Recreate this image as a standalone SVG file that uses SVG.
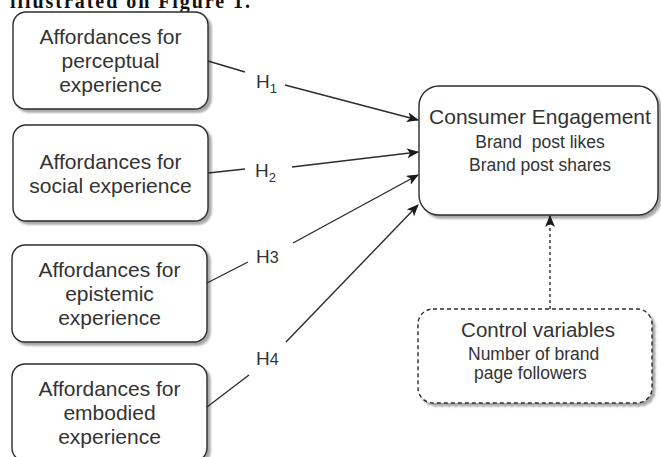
<svg xmlns="http://www.w3.org/2000/svg" width="661" height="457" viewBox="0 0 661 457">
<style>
.box{fill:#fff;stroke:#2b2b2b;stroke-width:1.4;filter:url(#sh)}
.dbox{fill:#fff;stroke:#2b2b2b;stroke-width:1.4;stroke-dasharray:4 3;filter:url(#sh)}
.t{font-family:"Liberation Sans",Arial,sans-serif;fill:#333;text-anchor:middle}
.big{font-size:21px}
.sm{font-size:17.5px}
.edge{stroke:#2b2b2b;stroke-width:1.4;fill:none}
.lab{font-family:"Liberation Sans",Arial,sans-serif;fill:#333}
</style>
<defs>
<filter id="sh" x="-10%" y="-10%" width="125%" height="130%">
<feGaussianBlur in="SourceAlpha" stdDeviation="1.3"/>
<feOffset dx="2.5" dy="3" result="b"/>
<feComponentTransfer><feFuncA type="linear" slope="0.35"/></feComponentTransfer>
<feMerge><feMergeNode/><feMergeNode in="SourceGraphic"/></feMerge>
</filter>
<marker id="ar" viewBox="0 0 12 10" refX="11" refY="5" markerWidth="12" markerHeight="10" markerUnits="userSpaceOnUse" orient="auto">
<path d="M0,0 L12,5 L0,10 L3,5 z" fill="#1a1a1a"/>
</marker>
</defs>
<rect width="661" height="457" fill="#fff"/>
<text x="10" y="8" font-family="Liberation Serif,serif" font-weight="bold" font-size="20" fill="#111" textLength="240">illustrated on Figure 1.</text>

<g id="n1">
<rect class="box" x="13" y="12" width="195" height="97" rx="13"/>
<text class="t big" x="110.5" y="44">Affordances for</text>
<text class="t big" x="110.5" y="68">perceptual</text>
<text class="t big" x="110.5" y="92">experience</text>
</g>
<g id="n2">
<rect class="box" x="13" y="125" width="195" height="96" rx="13"/>
<text class="t big" x="110.5" y="169">Affordances for</text>
<text class="t big" x="110.5" y="193">social experience</text>
</g>
<g id="n3">
<rect class="box" x="12" y="245" width="195" height="97" rx="13"/>
<text class="t big" x="109.5" y="277">Affordances for</text>
<text class="t big" x="109.5" y="301">epistemic</text>
<text class="t big" x="109.5" y="325">experience</text>
</g>
<g id="n4">
<rect class="box" x="12" y="364" width="195" height="97" rx="13"/>
<text class="t big" x="109.5" y="396">Affordances for</text>
<text class="t big" x="109.5" y="420">embodied</text>
<text class="t big" x="109.5" y="444">experience</text>
</g>
<g id="engagement">
<rect class="box" x="419" y="86" width="239" height="129" rx="20"/>
<text class="t big" x="540" y="124">Consumer Engagement</text>
<text class="t sm" x="540" y="148" style="white-space:pre">Brand  post likes</text>
<text class="t sm" x="540" y="171">Brand post shares</text>
</g>
<g id="control">
<rect class="dbox" x="418" y="309" width="234" height="94" rx="15"/>
<text class="t" x="538" y="337" font-size="20.5">Control variables</text>
<text class="t sm" x="468" y="360" style="text-anchor:start">Number of brand</text>
<text class="t sm" x="474" y="379" style="text-anchor:start">page followers</text>
</g>

<g id="connectors">
<line class="edge" x1="208" y1="61" x2="245" y2="72"/>
<line class="edge" x1="285" y1="85" x2="418" y2="120" marker-end="url(#ar)"/>
<line class="edge" x1="208" y1="173" x2="245" y2="169"/>
<line class="edge" x1="292" y1="167" x2="418" y2="152" marker-end="url(#ar)"/>
<line class="edge" x1="207" y1="283" x2="248" y2="262"/>
<line class="edge" x1="293" y1="243" x2="418" y2="175" marker-end="url(#ar)"/>
<line class="edge" x1="207" y1="407" x2="249" y2="375"/>
<line class="edge" x1="286" y1="342" x2="418" y2="205" marker-end="url(#ar)"/>
<line class="edge" x1="550" y1="309" x2="550" y2="216" stroke-dasharray="3 3" marker-end="url(#ar)"/>
<text class="lab" x="256" y="88" style="font-size:19px">H<tspan dy="5" style="font-size:13px">1</tspan></text>
<text class="lab" x="255" y="177" style="font-size:19px">H<tspan dy="5" style="font-size:13px">2</tspan></text>
<text class="lab" x="256" y="263" style="font-size:19px">H<tspan style="font-size:16px">3</tspan></text>
<text class="lab" x="256" y="365" style="font-size:19px">H<tspan style="font-size:16px">4</tspan></text>
</g>
</svg>
